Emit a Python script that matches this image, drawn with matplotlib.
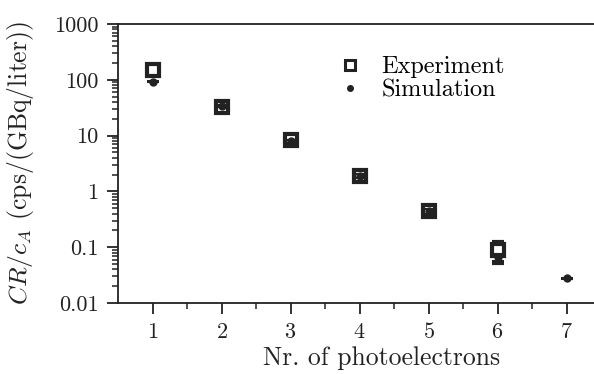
import numpy as np
import matplotlib
matplotlib.use("Agg")
import matplotlib.pyplot as plt
from matplotlib.lines import Line2D

plt.rcParams["font.family"] = "cmr10"
plt.rcParams["mathtext.fontset"] = "cm"
plt.rcParams["axes.formatter.use_mathtext"] = True

# ---- data ----
n_exp = [1, 2, 3, 4, 5, 6]
cr_exp = [148, 33, 8.2, 1.86, 0.44, 0.088]
err_exp = [12, 3, 0.7, 0.15, 0.04, 0.036]

n_sim = [1, 2, 3, 4, 5, 6, 7]
cr_sim = [93, 34, 8.0, 1.9, 0.44, 0.066, 0.0275]
err_sim = [3, 1.5, 0.5, 0.15, 0.04, 0.009, 0.001]

yticks = [0.01, 0.1, 1, 10, 100, 1000]
ytick_labels = ["0.01", "0.1", "1", "10", "100", "1000"]
xticks = [1, 2, 3, 4, 5, 6, 7]

fig = plt.figure(figsize=(5.94, 3.74), dpi=100)
ax = fig.add_axes([118 / 594, 71 / 374, 483 / 594, 279 / 374])

ax.errorbar(n_exp, cr_exp, yerr=err_exp, fmt="s", ms=8.5, mfc="white",
            mec="#222222", mew=3.0, ecolor="#222222", elinewidth=1.5,
            capsize=4, capthick=1.5, zorder=3)
ax.errorbar(n_sim, cr_sim, yerr=err_sim, fmt="o", ms=5, color="#222222",
            ecolor="#222222", elinewidth=1.5, capsize=4, capthick=1.5, zorder=4)

ax.set_yscale("log")
ax.set_xlim(0.5, 7.5)
ax.set_ylim(0.01, 1000)
ax.set_yticks(yticks)
ax.set_yticklabels(ytick_labels)
ax.set_xticks(xticks)
ax.set_xticks(np.arange(1.5, 7.5, 1.0), minor=True)

ax.spines["right"].set_visible(False)
for s in ["left", "bottom", "top"]:
    ax.spines[s].set_linewidth(1.3)
    ax.spines[s].set_color("#222222")

ax.tick_params(axis="both", which="major", direction="out", length=8, width=1.3,
               labelsize=16, colors="#222222", pad=6)
ax.tick_params(axis="both", which="minor", direction="out", length=4, width=1.1,
               colors="#222222")
ax.tick_params(top=False, right=False, which="both")

ax.set_xlabel("Nr. of photoelectrons", fontsize=18.5, color="#222222")
ax.xaxis.set_label_coords(0.545, -0.155)
ax.set_ylabel(r"$CR/c_A$ (cps/(GBq/liter))", fontsize=18.5, color="#222222")
ax.yaxis.set_label_coords(-0.17, 0.5)

handles = [
    Line2D([], [], marker="s", ls="none", ms=7, mfc="white", mec="#222222", mew=2.2),
    Line2D([], [], marker="o", ls="none", ms=4, color="#222222"),
]
ax.legend(handles, ["Experiment", "Simulation"], loc="upper left",
          bbox_to_anchor=(0.435, 0.92), frameon=False, fontsize=17.5,
          handlelength=1.0, handletextpad=0.8, labelspacing=0.05,
          borderaxespad=0)

fig.savefig("out.png", dpi=100)
